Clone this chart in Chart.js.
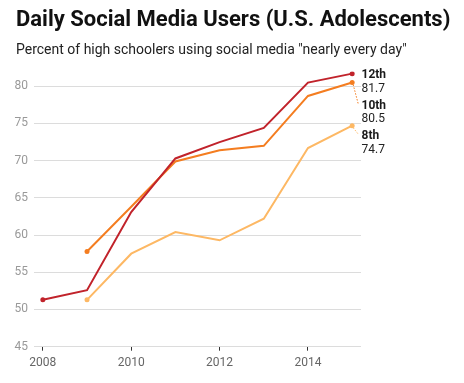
<!DOCTYPE html>
<html>
<head>
<meta charset="utf-8">
<script src="https://cdn.jsdelivr.net/npm/chart.js@4/dist/chart.umd.min.js"></script>
<style>
html,body{margin:0;padding:0;background:#fff;}
#wrap{position:relative;width:464px;height:383px;overflow:hidden;font-family:Roboto,sans-serif;}
#title{position:absolute;left:16px;top:6px;font-size:22px;font-weight:700;color:#111;white-space:nowrap;line-height:normal;}
#sub{position:absolute;left:16px;top:41px;font-size:14px;color:#222;white-space:nowrap;line-height:normal;}
#c{position:absolute;left:0;top:0;}
</style>
</head>
<body>
<div id="wrap">
<canvas id="c" width="464" height="383"></canvas>
<div id="title">Daily Social Media Users (U.S. Adolescents)</div>
<div id="sub">Percent of high schoolers using social media "nearly every day"</div>
</div>
<script>
const years = [2008, 2009, 2010, 2011, 2012, 2013, 2014, 2015];
const grade12 = [51.3, 52.6, 63.1, 70.3, 72.5, 74.4, 80.5, 81.7];
const grade10 = [null, 57.8, 63.8, 69.9, 71.4, 72.0, 78.7, 80.5];
const grade8  = [null, 51.3, 57.5, 60.4, 59.3, 62.2, 71.7, 74.7];
const seriesNames = ["12th", "10th", "8th"];
const seriesColors = ["#c1232b", "#f47d20", "#fdb864"];
const xTicks = [2008, 2010, 2012, 2014];
const yTicks = [45, 50, 55, 60, 65, 70, 75, 80];

const allSeries = [grade12, grade10, grade8];

function toPoints(vals){
  const pts = [];
  vals.forEach((v,i)=>{ if(v!==null) pts.push({x:years[i], y:v}); });
  return pts;
}

const datasets = allSeries.map((vals,k)=>{
  const pts = toPoints(vals);
  return {
    label: seriesNames[k],
    data: pts,
    borderColor: seriesColors[k],
    backgroundColor: seriesColors[k],
    borderWidth: 2,
    tension: 0,
    pointRadius: pts.map((p,i)=> (i===0||i===pts.length-1) ? 2.5 : 0),
    pointHoverRadius: 0,
    pointBorderWidth: 0,
    spanGaps: false
  };
});

const endLabels = {
  id: 'endLabels',
  afterDatasetsDraw(chart){
    const ctx = chart.ctx;
    let prev = -Infinity;
    chart.data.datasets.forEach((ds,k)=>{
      const meta = chart.getDatasetMeta(k);
      const pt = meta.data[meta.data.length-1];
      const vals = allSeries[k].filter(v=>v!==null);
      const val = vals[vals.length-1];
      const cy = Math.max(pt.y + 1.6, prev + 30.4);
      prev = cy;
      ctx.save();
      if (cy - pt.y > 6) {
        ctx.strokeStyle = ds.borderColor;
        ctx.lineWidth = 1;
        ctx.setLineDash([1.5, 1.5]);
        ctx.beginPath();
        ctx.moveTo(pt.x + 1, pt.y + 2);
        ctx.lineTo(pt.x + 6, cy - 2);
        ctx.stroke();
        ctx.setLineDash([]);
      }
      ctx.textAlign = 'left';
      ctx.textBaseline = 'middle';
      ctx.fillStyle = '#1a1a1a';
      ctx.font = 'bold 12px Roboto';
      ctx.fillText(ds.label, 361.5, cy);
      ctx.font = '12px Roboto';
      ctx.fillStyle = '#222';
      ctx.fillText(val.toFixed(1), 361.5, cy + 13.8);
      ctx.restore();
    });
  }
};

new Chart(document.getElementById('c'), {
  type: 'line',
  data: { datasets },
  options: {
    responsive: false,
    animation: false,
    events: [],
    layout: { padding: { top: 71.4, right: 103, left: 0, bottom: 0 } },
    plugins: { legend: { display: false }, tooltip: { enabled: false }, title: { display: false } },
    scales: {
      x: {
        type: 'linear',
        min: 2007.8,
        max: 2015.2,
        afterBuildTicks(scale){ scale.ticks = xTicks.map(v=>({value:v})); },
        afterFit(scale){ scale.height = 36.3; },
        grid: { drawOnChartArea: false, drawTicks: true, tickLength: 4, color: '#333', lineWidth: 1 },
        border: { display: false },
        ticks: { color: '#666', font: { family: 'Roboto', size: 12 }, padding: 5, maxRotation: 0, callback: v => String(v) }
      },
      y: {
        min: 45,
        max: 82,
        afterBuildTicks(scale){ scale.ticks = yTicks.map(v=>({value:v})); },
        afterFit(scale){ scale.width = 34; },
        grid: { color: '#dcdcdc', lineWidth: 1, drawTicks: false },
        border: { display: false },
        ticks: { color: '#999', font: { family: 'Roboto', size: 12 }, padding: 6 }
      }
    }
  },
  plugins: [endLabels]
});
</script>
</body>
</html>
